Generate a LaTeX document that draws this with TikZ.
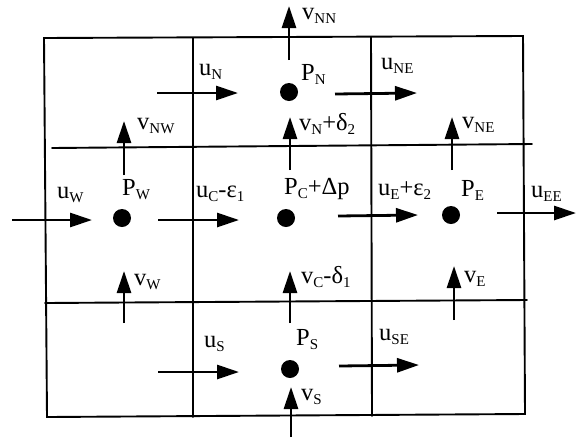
\documentclass[tikz,border=0pt]{standalone}
\usepackage{fontspec}
\setmainfont{Liberation Serif}
\usetikzlibrary{arrows.meta}
\newcommand\lsub[1]{\raisebox{-4.5pt}{\fontsize{15}{15}\selectfont #1}}
\tikzset{
  gridline/.style={line width=1.9pt, line cap=round},
  flow/.style={line width=2.8pt, -{Triangle[length=22pt,width=14pt]}},
  pdot/.style={circle, fill=black, inner sep=0pt, minimum size=18pt},
  lbl/.style={anchor=base west, inner sep=0pt, font=\fontsize{24.5}{28}\selectfont},
}
\begin{document}
\begin{tikzpicture}[x=1pt,y=-1pt]
\useasboundingbox (0,0) rectangle (577,437);
% grid
\draw[gridline] (44,38) -- (523,36) -- (525,414) -- (47,417) -- cycle;
\draw[gridline] (193,38) -- (193,417);
\draw[gridline] (371,37) -- (372,416);
\draw[gridline] (52,148) -- (532,144);
\draw[gridline] (45,303) -- (527,300);
% pressure points
\node[pdot] (PN) at (289,92) {};
\node[pdot] (PW) at (122,218) {};
\node[pdot] (PC) at (286,218) {};
\node[pdot] (PE) at (451,215) {};
\node[pdot] (PS) at (290,369) {};
% arrows
\coordinate (vNNa) at (289,60);  \coordinate (vNNb) at (289,6);
\coordinate (uNa) at (157,93);   \coordinate (uNb) at (238,93);
\coordinate (uNEa) at (335,94);  \coordinate (uNEb) at (417,93);
\coordinate (vNWa) at (124,175); \coordinate (vNWb) at (124,121);
\coordinate (vNa) at (290,170);  \coordinate (vNb) at (290,117);
\coordinate (vNEa) at (452,170); \coordinate (vNEb) at (452,117);
\coordinate (uWa) at (12,220);   \coordinate (uWb) at (92,220);
\coordinate (uCa) at (158,220);  \coordinate (uCb) at (239,220);
\coordinate (uEa) at (338,216);  \coordinate (uEb) at (418,215);
\coordinate (uEEa) at (497,213); \coordinate (uEEb) at (576,213);
\coordinate (vWa) at (124,323);  \coordinate (vWb) at (124,271);
\coordinate (vCa) at (290,323);  \coordinate (vCb) at (290,271);
\coordinate (vEa) at (454,320);  \coordinate (vEb) at (454,266);
\coordinate (uSa) at (158,372);  \coordinate (uSb) at (239,372);
\coordinate (uSEa) at (339,366); \coordinate (uSEb) at (419,365);
\coordinate (vSa) at (291,437);  \coordinate (vSb) at (291,387);
\foreach \a in {vNN,uN,uNE,vNW,vN,vNE,uW,uC,uE,uEE,vW,vC,vE,uS,uSE,vS}
  \draw[flow] (\a a) -- (\a b);
% labels
\node[lbl] (LvNN) at (302,19)  {v\lsub{NN}};
\node[lbl] (LuN)  at (199,75)  {u\lsub{N}};
\node[lbl] (LPN)  at (301,80)  {P\lsub{N}};
\node[lbl] (LuNE) at (381,69)  {u\lsub{NE}};
\node[lbl] (LvNW) at (137,129) {v\lsub{NW}};
\node[lbl] (LvN)  at (299,130) {v\lsub{N}+δ\lsub{2}};
\node[lbl] (LvNE) at (462,128) {v\lsub{NE}};
\node[lbl] (LuW)  at (57,198)  {u\lsub{W}};
\node[lbl] (LPW)  at (122,195) {P\lsub{W}};
\node[lbl] (LuC)  at (196,197) {u\lsub{C}-ε\lsub{1}};
\node[lbl] (LPC)  at (284,194) {P\lsub{C}+Δp};
\node[lbl] (LuE)  at (378,195) {u\lsub{E}+ε\lsub{2}};
\node[lbl] (LPE)  at (461,196) {P\lsub{E}};
\node[lbl] (LuEE) at (531,197) {u\lsub{EE}};
\node[lbl] (LvW)  at (134,285) {v\lsub{W}};
\node[lbl] (LvC)  at (301,283) {v\lsub{C}-δ\lsub{1}};
\node[lbl] (LvE)  at (464,282) {v\lsub{E}};
\node[lbl] (LuS)  at (204,347) {u\lsub{S}};
\node[lbl] (LPS)  at (296,345) {P\lsub{S}};
\node[lbl] (LuSE) at (379,340) {u\lsub{SE}};
\node[lbl] (LvS)  at (301,400) {v\lsub{S}};
\end{tikzpicture}
\end{document}
